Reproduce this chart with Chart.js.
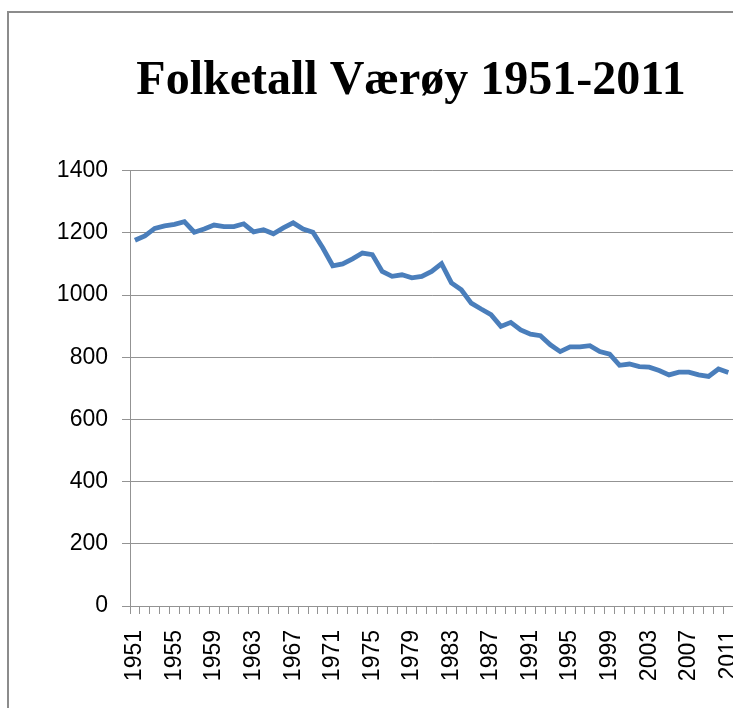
<!DOCTYPE html>
<html>
<head>
<meta charset="utf-8">
<script src="https://cdn.jsdelivr.net/npm/chart.js@4.4.1/dist/chart.umd.min.js"></script>
<style>
  html, body { margin: 0; padding: 0; background: #fff; overflow: hidden; width: 733px; height: 708px; }
  #frame { position: absolute; left: 7px; top: 11px; width: 900px; height: 800px; border-left: 2px solid #8c8c8c; border-top: 2px solid #8c8c8c; }
  #c { position: absolute; left: 9px; top: 13px; }
</style>
</head>
<body>
<div id="frame"></div>
<canvas id="c" width="804" height="700"></canvas>
<script>
const chartTitle = 'Folketall Værøy 1951-2011';
const years = ['1951','1952','1953','1954','1955','1956','1957','1958','1959','1960',
  '1961','1962','1963','1964','1965','1966','1967','1968','1969','1970',
  '1971','1972','1973','1974','1975','1976','1977','1978','1979','1980',
  '1981','1982','1983','1984','1985','1986','1987','1988','1989','1990',
  '1991','1992','1993','1994','1995','1996','1997','1998','1999','2000',
  '2001','2002','2003','2004','2005','2006','2007','2008','2009','2010','2011'];
const population = [1176,1190,1214,1222,1227,1236,1202,1212,1225,1220,
  1220,1229,1203,1210,1197,1216,1232,1212,1202,1151,
  1094,1100,1116,1135,1130,1076,1060,1065,1055,1060,
  1076,1101,1039,1017,974,955,937,899,912,888,
  874,869,840,818,833,833,837,818,810,774,
  778,770,768,757,743,752,752,743,738,762,751];
const yTicks = [0,200,400,600,800,1000,1200,1400];
const labelEvery = 4;

const gridColor = '#939393';

new Chart(document.getElementById('c'), {
  type: 'line',
  data: {
    labels: years,
    datasets: [{
      data: population,
      borderColor: '#4a7ebb',
      borderWidth: 4.8,
      pointRadius: 0,
      tension: 0,
      fill: false
    }]
  },
  options: {
    responsive: false,
    animation: false,
    layout: { padding: 0 },
    plugins: {
      legend: { display: false },
      tooltip: { enabled: false },
      title: {
        display: true,
        text: chartTitle,
        color: '#000',
        font: { family: "'Liberation Serif', 'Times New Roman', serif", size: 48, weight: 'bold', lineHeight: 1.2 },
        padding: { top: 40, bottom: 60 }
      }
    },
    scales: {
      x: {
        type: 'category',
        offset: true,
        grid: { display: true, drawOnChartArea: false, drawTicks: true, tickLength: 8, color: gridColor, offset: true },
        border: { display: true, color: gridColor, width: 1 },
        ticks: {
          autoSkip: false, maxRotation: 90, minRotation: 90, padding: 16,
          color: '#000',
          font: { family: "'Liberation Sans', Arial, sans-serif", size: 23 },
          callback: function (v, i) { return i % labelEvery === 0 ? years[i] : ''; }
        },
        afterFit: function (scale) {
          scale.height = 700 - 593;
          scale.paddingLeft = 0;
          scale.paddingRight = 79.7;
        }
      },
      y: {
        min: yTicks[0],
        max: yTicks[yTicks.length - 1],
        grid: { color: gridColor, tickLength: 8, lineWidth: 1 },
        border: { display: true, color: gridColor, width: 1 },
        ticks: {
          stepSize: 200, padding: 14, color: '#000',
          font: { family: "'Liberation Sans', Arial, sans-serif", size: 23 },
          callback: function (v) { return String(v); }
        },
        afterFit: function (scale) {
          scale.width = 121;
          scale.paddingTop = 0;
          scale.paddingBottom = 0;
        }
      }
    }
  }
});
</script>
</body>
</html>
